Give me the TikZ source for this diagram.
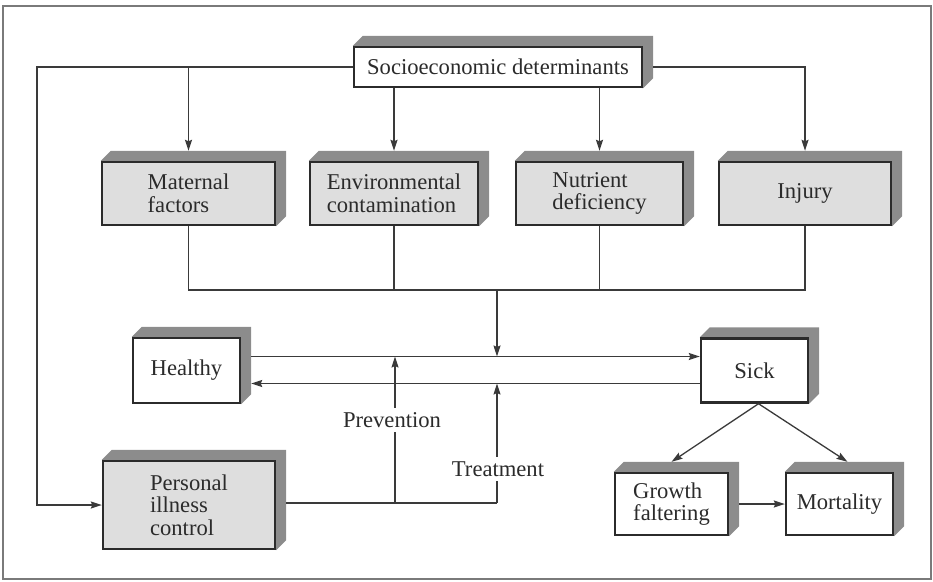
\documentclass[tikz,border=0pt]{standalone}
\usepackage{fontspec}
\setmainfont{Liberation Serif}
\usetikzlibrary{arrows.meta,calc}
\pgfdeclarelayer{bg}
\pgfsetlayers{bg,main}
\definecolor{ink}{HTML}{2B2B2B}
\definecolor{linec}{HTML}{3A3A3A}
\definecolor{shadec}{HTML}{8C8C8C}
\definecolor{boxfill}{HTML}{DEDEDE}
\definecolor{framec}{HTML}{7A7A7A}
\tikzset{
  box/.style={draw=ink, line width=2.4pt, fill=white, inner sep=0pt, align=left},
  gbox/.style={box, fill=boxfill},
  face/.style={fill=shadec},
  conn/.style={draw=linec, line width=1.3pt},
  arr/.style={conn, -{Stealth[length=11pt,width=7pt,inset=1.5pt]}},
  lbl/.style={fill=white, inner sep=4pt}
}
\begin{document}
\begin{tikzpicture}[x=1pt,y=-1pt, font=\fontsize{22.6pt}{22.5pt}\selectfont, text=ink]
\useasboundingbox (0,0) rectangle (933,581);
\draw[framec, line width=1.5pt] (3,6) rectangle (931,579);

\node[box, minimum width=288pt, minimum height=40pt] (soc) at (498,67) {Socioeconomic determinants};
\node[gbox, minimum width=173pt, minimum height=63pt] (mat) at (188.5,193.5) {Maternal\\factors};
\node[gbox, minimum width=168pt, minimum height=63pt] (env) at (394,193.5) {Environmental\\contamination};
\node[gbox, minimum width=167pt, minimum height=63pt] (nut) at (599.5,193.5) {Nutrient\\deficiency};
\node[gbox, minimum width=172pt, minimum height=63pt] (inj) at (805,193.5) {Injury};
\node[box, minimum width=107pt, minimum height=65pt] (hea) at (186.5,370.5) {Healthy};
\node[box, minimum width=107pt, minimum height=64pt] (sic) at (754.5,370.5) {Sick};
\node[gbox, minimum width=172pt, minimum height=88pt] (per) at (189,505) {Personal\\illness\\control};
\node[box, minimum width=113pt, minimum height=62pt] (gro) at (671.5,504) {Growth\\faltering};
\node[box, minimum width=107pt, minimum height=62pt] (mor) at (839.5,504) {Mortality};

\begin{pgfonlayer}{bg}
\foreach \n in {soc,mat,env,nut,inj,hea,sic,per,gro,mor}{
  \fill[face] (\n.north west) -- ++(10,-10) -- ([shift={(10pt,10pt)}]\n.north east)
    -- ([shift={(10pt,10pt)}]\n.south east) -- (\n.south east) -- cycle;
}
\end{pgfonlayer}

% from socioeconomic determinants
\coordinate (lx) at (37,0);
\draw[arr] (soc.west) -- (lx |- soc.west) -- (lx |- per.west) -- (per.west);
\draw[arr] (mat.north |- soc.west) -- ([yshift=10pt]mat.north);
\draw[arr] (soc.south -| env.north) -- ([yshift=10pt]env.north);
\draw[arr] (soc.south -| nut.north) -- ([yshift=10pt]nut.north);
\draw[arr] ([xshift=10pt]soc.east) -- (inj.north |- soc.east) -- ([yshift=10pt]inj.north);

% collector
\coordinate (jn) at (497,290);
\draw[conn] (mat.south) -- (mat.south |- jn) -- (inj.south |- jn) -- (inj.south);
\draw[conn] (env.south) -- (env.south |- jn);
\draw[conn] (nut.south) -- (nut.south |- jn);

\coordinate (L1) at (0,356.5);
\coordinate (L2) at (0,383.5);
\coordinate (hR) at ([xshift=10pt]hea.east);
\draw[arr] (jn) -- (jn |- L1);
\draw[arr] (hR |- L1) -- (sic.west |- L1);
\draw[arr] (sic.west |- L2) -- (hR |- L2);

% prevention / treatment
\coordinate (pv) at (395,503);
\coordinate (tr) at (497,503);
\coordinate (pR) at ([xshift=10pt]per.east);
\draw[conn] (pR |- tr) -- (tr);
\draw[arr] (pv) -- (pv |- L1);
\draw[arr] (tr) -- (tr |- L2);
\node[lbl] (prev) at (392,420) {Prevention};
\node[lbl] (treat) at (498,469) {Treatment};

% outcomes
\coordinate (sB) at ([xshift=4pt]sic.south);
\draw[arr] (sB) -- ([yshift=10pt]gro.north);
\draw[arr] (sB) -- ([xshift=8pt,yshift=10pt]mor.north);
\draw[arr] ([xshift=10pt]gro.east) -- (mor.west);
\end{tikzpicture}
\end{document}
